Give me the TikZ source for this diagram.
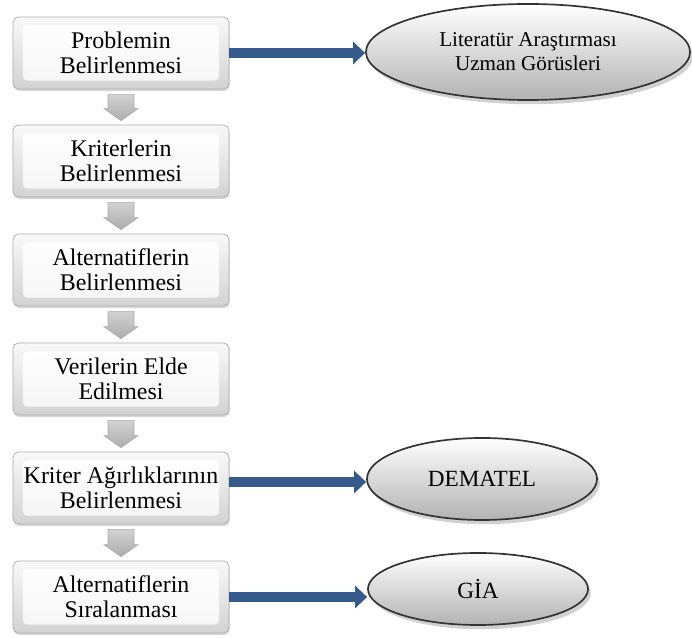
\documentclass[tikz,border=0pt]{standalone}
\usepackage{fontspec}
\setmainfont{Liberation Serif}
\usepackage{xcolor}
\usepackage{tikz}
\usetikzlibrary{arrows.meta,calc,shadows,shapes.geometric}
\definecolor{arrowblue}{RGB}{54,90,140}

\begin{document}
\begin{tikzpicture}[x=0.025cm,y=0.025cm,line width=0.5pt,
    stepbox/.style={rectangle,rounded corners=4pt,draw=gray!65,top color=gray!5,bottom color=gray!35,
      minimum width=5.4cm,minimum height=1.8cm,align=center,inner sep=0pt,
      font=\fontsize{17}{17.5}\selectfont,
      drop shadow={shadow xshift=0.5pt,shadow yshift=-1.5pt,fill=gray!60,opacity=.5},
      path picture={\shade[top color=white,bottom color=gray!8,rounded corners=3pt]
        ([shift={(7pt,-6pt)}]path picture bounding box.north west) rectangle
        ([shift={(-7pt,6pt)}]path picture bounding box.south east);}},
    method/.style={ellipse,draw=gray!40!black,line width=1.2pt,top color=white,bottom color=gray!60,
      inner sep=0pt,align=center,
      drop shadow={shadow xshift=2pt,shadow yshift=-3pt,fill=gray!60,opacity=.6}},
    downarr/.style={draw=gray!65,top color=gray!35,bottom color=gray!65},
    bluearr/.style={draw=arrowblue,line width=6.5pt,-{Triangle[length=0.3cm,width=0.55cm]}}]
    \useasboundingbox (0,0) rectangle (692,638);
    % steps
    \node[stepbox] (b1) at (121,585) {Problemin\\Belirlenmesi};
    \node[stepbox] (b2) at (121,477) {Kriterlerin\\Belirlenmesi};
    \node[stepbox] (b3) at (121,368) {Alternatiflerin\\Belirlenmesi};
    \node[stepbox] (b4) at (121,259) {Verilerin Elde\\Edilmesi};
    \node[stepbox] (b5) at (121,150) {Kriter Ağırlıklarının\\Belirlenmesi};
    \node[stepbox] (b6) at (121,41) {Alternatiflerin\\Sıralanması};
    % methods
    \node[method,minimum width=8.1cm,minimum height=2.4cm,font=\fontsize{15}{17}\selectfont]
      (lit) at (528,586) {Literatür Araştırması\\Uzman Görüsleri};
    \node[method,minimum width=5.75cm,minimum height=2.05cm,font=\fontsize{16.5}{18}\selectfont]
      (dem) at (482,159) {DEMATEL};
    \node[method,minimum width=5.5cm,minimum height=1.8cm,font=\fontsize{16.5}{18}\selectfont]
      (gia) at (478,49) {GİA};
    % gray arrows between steps
    \foreach \a/\b in {b1/b2,b2/b3,b3/b4,b4/b5,b5/b6}
      \draw[downarr] ($(\a.south)+(-13,-5)$) -- ($(\a.south)+(13,-5)$) -- ($(\b.north)+(13,16)$)
        -- ($(\b.north)+(17,16)$) -- ($(\b.north)+(0,4)$) -- ($(\b.north)+(-17,16)$)
        -- ($(\b.north)+(-13,16)$) -- cycle;
    % blue arrows
    \coordinate (s5) at ($(b5.east)+(0,6)$);
    \draw[bluearr] (b1.east) -- (b1.east -| lit.west);
    \draw[bluearr] (s5) -- (s5 -| dem.west);
    \draw[bluearr] (b6.east) -- (b6.east -| gia.west);
\end{tikzpicture}
\end{document}
